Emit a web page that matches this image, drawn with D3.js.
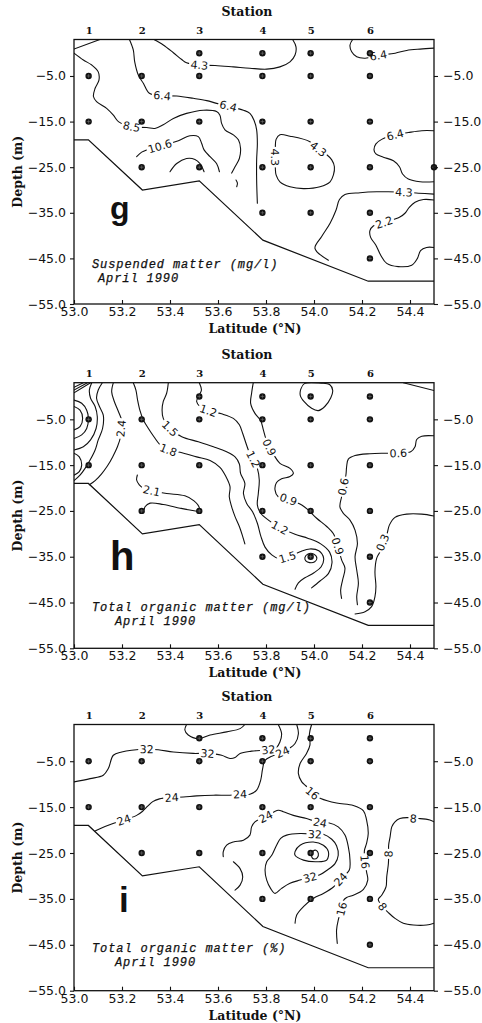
<!DOCTYPE html>
<html>
<head>
<meta charset="utf-8">
<script src="https://cdn.jsdelivr.net/npm/d3@7"></script>
<style>
  body { margin: 0; background: #fff; }
  svg { display: block; }
</style>
</head>
<body>
<svg id="fig" width="482" height="1023"></svg>
<script>
// ---- axes & stations -------------------------------------------------------
const latTicks = [53.0, 53.2, 53.4, 53.6, 53.8, 54.0, 54.2, 54.4];
const depthTicks = [-5, -15, -25, -35, -45, -55];
const stationNames = ["1", "2", "3", "4", "5", "6"];
const stationLat = [53.061, 53.282, 53.522, 53.785, 53.986, 54.233];
const sampleDepths = [
  [-5, -15],
  [-5, -15, -25],
  [0, -5, -15, -25],
  [0, -5, -15, -25, -35],
  [0, -5, -15, -25, -35],
  [0, -5, -15, -25, -35, -45]
];
const extraSamplesG = [[54.5, -25]];
// bottom profile along the transect [lat, depth]
const seafloor = [[53.0, -19], [53.06, -19], [53.285, -30], [53.522, -28], [53.787, -41], [54.226, -50], [54.5, -50]];

// ---- g: suspended matter (mg/l) -------------------------------------------
const contoursG = [
  [[53.0, 0.9], [53.108, 3]],
  [[53.0, 0.0], [53.039, -1.5], [53.074, -2.6], [53.101, -4.1], [53.104, -5.9], [53.088, -7.7], [53.081, -9.5], [53.094, -10.6], [53.136, -12.1], [53.164, -13.6], [53.185, -15.0], [53.24, -16.1], [53.303, -16.3], [53.337, -16.5], [53.372, -15.7], [53.414, -14.3], [53.469, -13.2], [53.539, -12.5], [53.594, -12.8], [53.608, -13.6], [53.615, -15.4], [53.629, -16.8], [53.664, -17.9], [53.685, -19.0], [53.694, -20.9], [53.689, -23.1], [53.671, -24.9], [53.657, -26.3]],
  [[53.231, 3], [53.247, 0.7], [53.253, -1.9], [53.268, -4.8], [53.289, -6.6], [53.314, -8.8], [53.367, -9.3], [53.428, -9.4], [53.497, -9.9], [53.553, -10.4], [53.594, -11.0], [53.643, -11.6], [53.706, -12.5], [53.733, -13.2], [53.75, -14.7], [53.761, -16.8], [53.764, -19.8], [53.761, -23.4], [53.761, -27.8], [53.764, -32.9]],
  [[53.261, -22.7], [53.282, -21.7], [53.303, -21.2], [53.358, -20.4], [53.435, -19.2], [53.483, -18.1], [53.518, -18.3], [53.532, -19.8], [53.542, -21.2], [53.567, -22.7], [53.594, -24.2], [53.606, -26.0]],
  [[53.4, -26.0], [53.428, -24.2], [53.469, -23.1], [53.504, -23.3], [53.525, -24.2], [53.542, -26.0]],
  [[53.675, -27.8], [53.681, -28.5], [53.678, -29.3]],
  [[53.333, 3], [53.372, 1.8], [53.414, 0.1], [53.449, -1.4], [53.469, -2.1], [53.522, -2.6], [53.588, -2.7], [53.664, -3.0], [53.733, -3.3], [53.803, -3.5], [53.858, -3.0], [53.9, -1.9], [53.921, -0.4], [53.925, 1.4], [53.911, 3]],
  [[54.161, 3], [54.15, 1.8], [54.157, 0.3], [54.178, -0.8], [54.213, -1.1], [54.268, -0.5], [54.338, 0.0], [54.386, 0.6], [54.442, 0.9], [54.5, 1.1]],
  [[53.839, -22.8], [53.839, -25.3], [53.842, -26.7], [53.858, -28.2], [53.9, -29.3], [53.956, -29.7], [54.025, -29.3], [54.067, -28.2], [54.081, -26.7], [54.085, -24.9], [54.074, -23.4], [54.05, -22.1], [54.018, -21.0], [53.983, -19.4], [53.9, -18.2], [53.858, -17.9], [53.842, -18.9], [53.839, -20.5], [53.839, -22.8]],
  [[54.5, -17.0], [54.449, -17.0], [54.393, -17.4], [54.338, -17.9], [54.282, -18.9], [54.258, -19.9], [54.25, -21.2], [54.258, -22.1], [54.289, -22.8], [54.331, -23.6], [54.356, -24.9], [54.369, -26.5], [54.393, -27.6], [54.442, -28.2], [54.5, -28.2]],
  [[54.06, -45.4], [54.004, -42.8], [54.032, -40.2], [54.067, -37.3], [54.092, -34.4], [54.106, -32.1], [54.129, -31.0], [54.192, -30.6], [54.261, -30.4], [54.31, -30.4], [54.375, -30.5], [54.435, -30.7], [54.5, -30.9]],
  [[54.5, -32.2], [54.456, -32.1], [54.421, -32.7], [54.397, -33.8], [54.379, -35.1], [54.356, -36.0], [54.292, -37.1], [54.247, -37.9], [54.233, -38.9], [54.236, -40.4], [54.258, -42.1], [54.278, -44.3], [54.303, -46.1], [54.351, -46.8], [54.407, -46.5], [54.431, -45.0], [54.444, -43.3], [54.469, -42.6], [54.5, -42.6]]
];
const labelsG = [
  ["4.3", 53.522, -2.6], ["6.4", 53.367, -9.3], ["6.4", 53.643, -11.6], ["8.5", 53.24, -16.1],
  ["10.6", 53.358, -20.4], ["4.3", 53.839, -22.8], ["4.3", 54.018, -21.0], ["6.4", 54.268, -0.5],
  ["6.4", 54.338, -17.9], ["4.3", 54.375, -30.5], ["2.2", 54.292, -37.1]
];

// ---- h: total organic matter (mg/l) ---------------------------------------
const contoursH = [
  [[53.0, 1.4], [53.056, 3]],
  [[53.0, 2.0], [53.039, 3]],
  [[53.0, 0.8], [53.069, 3]],
  [[53.0, -2.2], [53.025, -3.0], [53.036, -4.8], [53.025, -6.6], [53.0, -7.3]],
  [[53.0, -0.8], [53.032, -1.5], [53.053, -3.0], [53.06, -4.8], [53.053, -7.0], [53.032, -8.4], [53.0, -9.2]],
  [[53.074, 3], [53.064, 1.4], [53.069, -0.4], [53.088, -2.2], [53.097, -4.4], [53.092, -7.0], [53.069, -9.5], [53.039, -11.0], [53.0, -11.7]],
  [[53.0, -12.4], [53.022, -13.2], [53.032, -15.0], [53.022, -16.4], [53.0, -17.2]],
  [[53.118, 3], [53.101, 1.4], [53.094, -0.4], [53.106, -2.2], [53.122, -4.1], [53.119, -7.0], [53.101, -9.5], [53.088, -11.7], [53.067, -13.9], [53.046, -15.7], [53.025, -17.2], [53.0, -18.4]],
  [[53.164, 3], [53.157, 1.0], [53.168, -1.1], [53.185, -3.3], [53.2, -5.5], [53.196, -7.0], [53.194, -8.8], [53.181, -11.0], [53.161, -13.2], [53.139, -15.2], [53.115, -16.9], [53.088, -18.4], [53.064, -19.3]],
  [[53.247, 3], [53.258, 1.4], [53.265, -0.8], [53.275, -3.1], [53.289, -5.15], [53.31, -7.0], [53.333, -8.8], [53.356, -10.4], [53.393, -11.7], [53.442, -12.2], [53.511, -13.2], [53.567, -14.0], [53.608, -15.5], [53.633, -17.5], [53.65, -19.7], [53.647, -21.9], [53.657, -24.1], [53.671, -26.25], [53.689, -28.4], [53.703, -30.6], [53.712, -32.2]],
  [[53.264, -17.15], [53.261, -18.25], [53.272, -19.3], [53.292, -20.1], [53.324, -20.6], [53.386, -21.2], [53.462, -21.7], [53.5, -22.8], [53.522, -24.3], [53.519, -25.0], [53.483, -24.8], [53.442, -24.4], [53.372, -23.6], [53.317, -23.3], [53.296, -24.1], [53.293, -24.65]],
  [[53.393, 3], [53.386, 0.7], [53.372, -1.1], [53.367, -3.0], [53.372, -4.8], [53.4, -7.0], [53.449, -8.8], [53.518, -9.9], [53.581, -11.0], [53.636, -12.1], [53.671, -13.2], [53.689, -14.75], [53.694, -16.8], [53.712, -19.0], [53.706, -21.2], [53.719, -23.3], [53.744, -25.2], [53.764, -27.7], [53.779, -30.6], [53.796, -32.9], [53.824, -34.6], [53.851, -35.35], [53.889, -35.1], [53.942, -33.9], [53.983, -33.3], [54.02, -33.7], [54.04, -35.3], [54.03, -37.2], [54.0, -38.5], [53.962, -39.6], [53.935, -40.7], [53.921, -42.1]],
  [[53.962, -35.2], [53.975, -34.4], [53.998, -34.4], [54.012, -35.3], [54.003, -36.1], [53.982, -36.3], [53.966, -35.9], [53.962, -35.2]],
  [[53.522, 3], [53.531, 1.4], [53.522, 0.3], [53.511, -1.1], [53.525, -2.2], [53.56, -3.1], [53.615, -3.8], [53.664, -4.8], [53.689, -6.2], [53.703, -8.1], [53.719, -10.6], [53.731, -12.3], [53.747, -13.7], [53.764, -15.7], [53.772, -18.25], [53.768, -21.2], [53.764, -23.7], [53.778, -25.5], [53.81, -27.0], [53.858, -28.65], [53.921, -30.1], [53.976, -31.0], [54.028, -32.2], [54.065, -34.0], [54.075, -36.3], [54.06, -38.7], [54.025, -40.3], [53.99, -41.8]],
  [[53.747, 3], [53.74, 0.7], [53.736, -1.5], [53.754, -3.7], [53.778, -5.3], [53.789, -7.3], [53.799, -9.15], [53.814, -11.1], [53.833, -12.8], [53.858, -14.6], [53.9, -15.7], [53.914, -16.8], [53.9, -17.5], [53.865, -18.0], [53.844, -18.8], [53.8375, -20.4], [53.851, -21.9], [53.893, -22.5], [53.949, -23.7], [53.976, -24.8], [54.011, -26.6], [54.053, -28.4], [54.081, -30.0], [54.099, -32.7], [54.115, -35.7], [54.129, -37.5], [54.119, -40.1], [54.111, -42.3], [54.115, -44.1]],
  [[54.5, -8.6], [54.449, -8.7], [54.428, -9.4], [54.421, -11.0], [54.403, -12.1], [54.351, -12.4], [54.289, -12.4], [54.233, -12.5], [54.171, -12.9], [54.143, -13.7], [54.136, -15.3], [54.133, -17.15], [54.122, -19.7], [54.115, -21.9], [54.108, -24.1], [54.122, -25.5], [54.15, -27.0], [54.171, -29.2], [54.181, -32.1], [54.171, -35.0], [54.178, -37.9], [54.185, -40.8], [54.178, -43.7], [54.181, -45.5]],
  [[54.5, -26.1], [54.449, -25.7], [54.386, -25.7], [54.3375, -26.4], [54.314, -28.1], [54.303, -30.25], [54.286, -31.9], [54.275, -33.9], [54.261, -35.35], [54.254, -38.3], [54.258, -41.5], [54.254, -43.7], [54.24, -45.9], [54.2125, -47.0], [54.171, -47.5]],
  [[53.96, 2.8], [53.945, 1.6], [53.943, 0.2], [53.96, -1.2], [53.99, -2.6], [54.018, -3.1], [54.045, -2.2], [54.07, -0.3], [54.078, 1.3], [54.065, 2.6], [54.03, 2.9], [53.96, 2.8]],
  [[54.372, 3], [54.5, 1.3]]
];
const labelsH = [
  ["2.4", 53.196, -7.0], ["1.5", 53.4, -7.0], ["1.8", 53.393, -11.7], ["1.2", 53.56, -3.1],
  ["0.9", 53.814, -11.1], ["1.2", 53.747, -13.7], ["2.1", 53.324, -20.6], ["0.9", 53.893, -22.5],
  ["1.2", 53.858, -28.65], ["1.5", 53.889, -35.1], ["0.9", 54.099, -32.7], ["0.6", 54.122, -19.7],
  ["0.6", 54.351, -12.4], ["0.3", 54.286, -31.9]
];

// ---- i: total organic matter (%) -------------------------------------------
const contoursI = [
  [[53.469, 3], [53.462, 1.8], [53.476, 0.7], [53.518, -0.1], [53.567, 0.7], [53.636, 1.4], [53.692, 2.1], [53.712, 3]],
  [[53.0, -9.5], [53.067, -8.8], [53.122, -8.05], [53.143, -6.6], [53.164, -3.7], [53.199, -3.0], [53.24, -2.6], [53.303, -2.4], [53.351, -2.5], [53.414, -3.0], [53.497, -3.3], [53.556, -3.3], [53.615, -3.7], [53.65, -4.4], [53.671, -4.2], [53.692, -3.3], [53.74, -2.8], [53.81, -2.5], [53.842, -2.1], [53.858, -0.8], [53.865, 1.0], [53.851, 3]],
  [[53.928, 3], [53.935, 1.0], [53.921, -1.15], [53.897, -2.2], [53.869, -3.0], [53.824, -3.9], [53.796, -4.8], [53.786, -6.6], [53.778, -9.1], [53.761, -11.3], [53.733, -12.2], [53.692, -12.2], [53.65, -12.4], [53.581, -12.4], [53.511, -12.55], [53.456, -12.8], [53.407, -12.9], [53.356, -13.2], [53.328, -13.8], [53.307, -14.8], [53.286, -15.9], [53.261, -16.8], [53.208, -17.8], [53.157, -18.7], [53.108, -19.7], [53.088, -20.2]],
  [[53.99, 3], [53.981, 1.0], [53.983, -1.5], [53.969, -3.3], [53.942, -5.5], [53.935, -7.7], [53.949, -9.5], [53.967, -10.4], [53.993, -12.0], [54.028, -13.1], [54.094, -14.1], [54.164, -14.65], [54.206, -15.8], [54.219, -17.8], [54.226, -20.75], [54.219, -22.9], [54.21, -24.5], [54.2125, -26.9], [54.219, -29.1], [54.224, -30.9], [54.206, -32.9], [54.164, -34.2], [54.136, -34.7], [54.122, -35.4], [54.115, -37.2], [54.101, -39.6], [54.094, -41.8], [54.097, -44.7]],
  [[53.622, -25.8], [53.622, -24.7], [53.636, -23.3], [53.664, -22.6], [53.706, -22.2], [53.733, -21.1], [53.74, -19.3], [53.754, -18.2], [53.799, -17.1], [53.851, -15.7], [53.872, -16.0], [53.914, -16.8], [53.969, -17.5], [54.025, -18.4], [54.06, -18.4], [54.101, -19.3], [54.129, -21.1], [54.143, -23.65], [54.15, -26.55], [54.147, -28.7], [54.111, -30.7], [54.081, -32.4], [54.039, -33.8], [53.997, -34.9], [53.956, -36.7], [53.928, -38.5], [53.921, -40.3]],
  [[53.664, -26.9], [53.692, -28.4], [53.703, -30.2], [53.692, -32.0], [53.671, -33.1]],
  [[53.8375, -33.8], [53.819, -32.7], [53.803, -30.9], [53.796, -28.7], [53.803, -26.9], [53.824, -25.5], [53.844, -23.3], [53.861, -21.8], [53.886, -21.1], [53.942, -20.75], [54.004, -20.9], [54.039, -20.9], [54.074, -22.0], [54.094, -23.4], [54.101, -25.5], [54.0875, -27.3], [54.056, -28.7], [54.022, -29.8], [53.983, -30.3], [53.942, -30.9], [53.9, -31.6], [53.865, -32.7], [53.8375, -33.8]],
  [[53.921, -24.7], [53.942, -23.3], [53.997, -22.6], [54.039, -23.3], [54.06, -24.7], [54.053, -26.55], [54.011, -26.9], [53.956, -26.55], [53.921, -25.5], [53.921, -24.7]],
  [[53.99, -25.5], [53.996, -24.6], [54.008, -24.4], [54.018, -25.1], [54.014, -26.0], [54.0, -26.3], [53.992, -26.0], [53.99, -25.5]],
  [[54.5, -18.2], [54.483, -17.8], [54.442, -17.5], [54.414, -17.5], [54.393, -17.3], [54.358, -17.5], [54.3375, -18.2], [54.324, -19.3], [54.317, -21.5], [54.311, -23.3], [54.311, -25.2], [54.31, -27.3], [54.303, -30.2], [54.3, -32.4], [54.282, -34.2], [54.268, -35.1], [54.286, -36.7], [54.31, -38.0], [54.3375, -39.25], [54.372, -40.3], [54.414, -40.7], [54.469, -40.7], [54.5, -40.3]]
];
const labelsI = [
  ["32", 53.303, -2.4], ["32", 53.556, -3.3], ["32", 53.81, -2.5], ["24", 53.869, -3.0],
  ["16", 53.993, -12.0], ["24", 53.692, -12.2], ["24", 53.407, -12.9], ["24", 53.208, -17.8],
  ["24", 53.799, -17.1], ["24", 54.025, -18.4], ["32", 54.004, -20.9], ["32", 53.983, -30.3],
  ["24", 54.111, -30.7], ["16", 54.2125, -26.9], ["16", 54.115, -37.2],
  ["8", 54.414, -17.5], ["8", 54.311, -25.2], ["8", 54.286, -36.7]
];

// ---- layout ----------------------------------------------------------------
const panels = [
  { top: 39.5, bottom: 304, letter: "g", letterSize: 32, letterX: 110, letterY: 218.5,
    caption: ["Suspended matter (mg/l)", "April 1990"], capX: [92, 98], capY: [267.5, 281.5],
    contours: contoursG, labels: labelsG, extra: extraSamplesG },
  { top: 382.7, bottom: 648.3, letter: "h", letterSize: 40, letterX: 110, letterY: 570,
    caption: ["Total organic matter (mg/l)", "April 1990"], capX: [92, 115], capY: [610.5, 624.5],
    contours: contoursH, labels: labelsH, extra: [] },
  { top: 724.5, bottom: 990.7, letter: "i", letterSize: 35, letterX: 119, letterY: 911.5,
    caption: ["Total organic matter (%)", "April 1990"], capX: [92, 115], capY: [951.5, 965.5],
    contours: contoursI, labels: labelsI, extra: [] }
];

const INK = "#111";
const svg = d3.select("#fig");
const x = d3.scaleLinear().domain([53.0, 54.5]).range([74, 434]);
const fmt = d3.format(".1f");

panels.forEach((p, k) => {
  const y = d3.scaleLinear().domain([-55, 3]).range([p.bottom, p.top]);
  const root = svg.append("g").attr("class", "panel-" + p.letter);

  const clipId = "plot-clip-" + k;
  root.append("clipPath").attr("id", clipId).append("rect")
    .attr("x", x(53.0)).attr("y", p.top)
    .attr("width", x(54.5) - x(53.0)).attr("height", p.bottom - p.top);
  const plot = root.append("g").attr("clip-path", `url(#${clipId})`);

  // contour lines
  p.contours.forEach(c => {
    const n = c.length;
    const closed = n > 3 && c[0][0] === c[n - 1][0] && c[0][1] === c[n - 1][1];
    const gen = d3.line().x(d => x(d[0])).y(d => y(d[1]))
      .curve(closed ? d3.curveCatmullRomClosed.alpha(0.5) : d3.curveCatmullRom.alpha(0.5));
    plot.append("path")
      .attr("d", gen(closed ? c.slice(0, -1) : c))
      .attr("fill", "none").attr("stroke", INK).attr("stroke-width", 1.1)
      .attr("stroke-linejoin", "round").attr("stroke-linecap", "round");
  });

  // sea floor
  plot.append("path")
    .attr("d", d3.line().x(d => x(d[0])).y(d => y(d[1]))(seafloor))
    .attr("fill", "none").attr("stroke", INK).attr("stroke-width", 1.2);

  // contour labels, oriented along the local line direction
  p.labels.forEach(([txt, la, de]) => {
    const px = x(la), py = y(de);
    let best = null, bd = Infinity;
    p.contours.forEach(c => c.forEach((pt, i) => {
      const d = Math.hypot(x(pt[0]) - px, y(pt[1]) - py);
      if (d < bd) { bd = d; best = [c, i]; }
    }));
    const [c, i] = best;
    const a = c[Math.max(0, i - 1)], b = c[Math.min(c.length - 1, i + 1)];
    let ang = Math.atan2(y(b[1]) - y(a[1]), x(b[0]) - x(a[0])) * 180 / Math.PI;
    if (ang > 90) ang -= 180;
    if (ang <= -90) ang += 180;
    const lg = plot.append("g").attr("transform", `translate(${px},${py}) rotate(${ang})`);
    const t = lg.append("text")
      .attr("text-anchor", "middle").attr("dy", "0.36em")
      .attr("font-family", "DejaVu Sans").attr("font-size", 11).attr("fill", INK)
      .text(txt);
    const bb = t.node().getBBox();
    lg.insert("rect", "text")
      .attr("x", bb.x - 1.5).attr("y", bb.y + 1)
      .attr("width", bb.width + 3).attr("height", bb.height - 2)
      .attr("fill", "#fff");
  });

  // sampling points
  const samples = [];
  stationLat.forEach((la, s) => sampleDepths[s].forEach(de => samples.push([la, de])));
  p.extra.forEach(d => samples.push(d));
  const dots = root.append("g");
  samples.forEach(([la, de]) => {
    const cx = x(la), cy = y(de);
    dots.append("circle").attr("cx", cx).attr("cy", cy).attr("r", 3.2).attr("fill", INK);
    dots.append("path")
      .attr("d", `M${cx - 1.9},${cy}H${cx + 1.9}M${cx},${cy - 1.9}V${cy + 1.9}`)
      .attr("stroke", "#777").attr("stroke-width", 0.6);
  });

  // frame
  root.append("rect")
    .attr("x", x(53.0)).attr("y", p.top)
    .attr("width", x(54.5) - x(53.0)).attr("height", p.bottom - p.top)
    .attr("fill", "none").attr("stroke", INK).attr("stroke-width", 1.3);

  // axes
  const styleAxis = sel => {
    sel.select(".domain").remove();
    sel.selectAll(".tick line").attr("stroke", INK).attr("stroke-width", 1.1);
    sel.selectAll(".tick text").attr("fill", INK)
      .attr("font-family", "DejaVu Sans").attr("font-size", 12.5);
  };
  root.append("g").attr("transform", `translate(${x(53.0)},0)`)
    .call(d3.axisLeft(y).tickValues(depthTicks).tickSize(4).tickPadding(4).tickFormat(fmt))
    .call(styleAxis);
  root.append("g").attr("transform", `translate(${x(54.5)},0)`)
    .call(d3.axisRight(y).tickValues(depthTicks).tickSize(4).tickPadding(5).tickFormat(fmt))
    .call(styleAxis);
  root.append("g").attr("transform", `translate(0,${p.bottom})`)
    .call(d3.axisBottom(x).tickValues(latTicks).tickSizeInner(-4).tickSizeOuter(0).tickPadding(3).tickFormat(fmt))
    .call(styleAxis);
  const top = root.append("g").attr("transform", `translate(0,${p.top})`)
    .call(d3.axisTop(x).tickValues(stationLat).tickSize(0).tickPadding(6)
      .tickFormat((d, i) => stationNames[i]));
  top.select(".domain").remove();
  top.selectAll(".tick text").attr("fill", INK)
    .attr("font-family", "DejaVu Serif").attr("font-weight", "bold").attr("font-size", 10);

  // titles
  const serifBold = s => s.attr("font-family", "DejaVu Serif").attr("font-weight", "bold")
    .attr("font-size", 12.5).attr("fill", INK).attr("text-anchor", "middle");
  root.append("text").attr("x", 247).attr("y", p.top - 23.5).text("Station").call(serifBold);
  root.append("text").attr("x", 255).attr("y", p.bottom + 29).text("Latitude (°N)").call(serifBold);
  root.append("text")
    .attr("transform", `translate(22,${(p.top + p.bottom) / 2}) rotate(-90)`)
    .text("Depth (m)").call(serifBold);

  // panel letter
  root.append("text").attr("x", p.letterX).attr("y", p.letterY)
    .attr("font-family", "Liberation Sans").attr("font-weight", "bold")
    .attr("font-size", p.letterSize).attr("fill", INK).text(p.letter);

  // caption (two lines, italic)
  p.caption.forEach((line, j) => {
    root.append("text").attr("x", p.capX[j]).attr("y", p.capY[j])
      .attr("font-family", "Liberation Mono").attr("font-style", "italic")
      .attr("font-size", 12).attr("letter-spacing", 0.9)
      .attr("fill", INK).attr("stroke", INK).attr("stroke-width", 0.25)
      .text(line);
  });
});
</script>
</body>
</html>
